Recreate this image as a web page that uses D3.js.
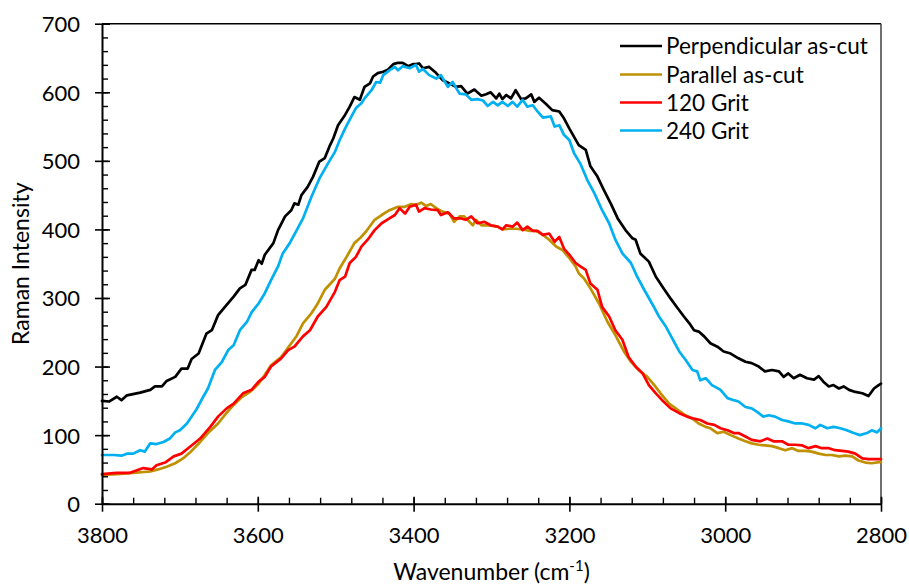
<!DOCTYPE html>
<html>
<head>
<meta charset="utf-8">
<script src="https://cdn.jsdelivr.net/npm/d3@7/dist/d3.min.js"></script>
<style>
  html, body { margin: 0; padding: 0; background: #fff; }
  svg { display: block; font-family: Lato, "Open Sans", sans-serif; }
</style>
</head>
<body>
<svg id="chart" width="909" height="584"></svg>
<script>
// ---- Data (wavenumber cm-1, Raman intensity) ----
const seriesNames = ["Perpendicular as-cut", "Parallel as-cut", "120 Grit", "240 Grit"];

const perpendicularAsCut = [
  [3800,150],[3791,149],[3781,156],[3775,151],[3768,158],[3751,162],[3738,166],[3732,171],[3723,171],[3717,179],
  [3706,185],[3698,197],[3690,197],[3685,211],[3676,219],[3666,248],[3659,253],[3651,275],[3640,290],[3631,302],
  [3623,314],[3616,319],[3608,341],[3604,341],[3599,355],[3595,350],[3591,363],[3580,380],[3574,399],[3565,419],
  [3557,428],[3553,438],[3548,436],[3544,450],[3536,462],[3529,477],[3521,499],[3514,504],[3508,521],[3503,533],
  [3497,552],[3488,567],[3482,579],[3476,593],[3469,589],[3463,608],[3456,613],[3452,623],[3446,628],[3439,630],
  [3433,633],[3426,641],[3420,643],[3414,643],[3407,638],[3401,641],[3397,641],[3393,642],[3388,635],[3380,637],
  [3371,628],[3363,618],[3354,613],[3346,608],[3339,609],[3331,598],[3322,604],[3313,595],[3307,597],[3301,600],
  [3294,591],[3290,598],[3286,590],[3281,596],[3275,591],[3269,603],[3262,590],[3256,591],[3249,597],[3245,586],
  [3239,592],[3230,583],[3222,574],[3213,572],[3207,562],[3200,547],[3194,535],[3188,523],[3179,516],[3173,492],
  [3164,477],[3156,458],[3147,438],[3138,416],[3128,399],[3119,387],[3115,385],[3109,365],[3098,353],[3089,331],
  [3079,314],[3070,299],[3061,285],[3053,273],[3046,263],[3040,253],[3034,251],[3027,244],[3019,234],[3010,229],
  [3002,222],[2993,219],[2983,212],[2974,207],[2966,205],[2957,200],[2949,193],[2940,195],[2931,193],[2925,185],
  [2919,190],[2912,183],[2904,188],[2895,183],[2886,181],[2880,186],[2874,178],[2867,171],[2861,173],[2854,168],
  [2848,171],[2841,166],[2833,163],[2824,161],[2816,157],[2809,168],[2803,173],[2800,175]
];

const parallelAsCut = [
  [3800,42],[3781,43],[3760,45],[3738,47],[3728,50],[3717,54],[3706,59],[3696,66],[3685,77],[3674,90],
  [3664,103],[3651,117],[3642,130],[3631,144],[3621,155],[3610,163],[3599,175],[3591,188],[3583,202],[3570,214],
  [3557,234],[3550,245],[3542,263],[3531,278],[3523,292],[3514,312],[3501,328],[3495,343],[3486,360],[3476,380],
  [3469,387],[3461,397],[3450,414],[3441,421],[3431,428],[3420,433],[3411,433],[3403,437],[3397,436],[3390,439],
  [3384,434],[3378,437],[3371,431],[3363,426],[3354,423],[3348,411],[3341,419],[3335,419],[3324,406],[3320,414],
  [3313,406],[3303,406],[3292,404],[3286,400],[3277,401],[3269,401],[3260,400],[3252,398],[3243,398],[3234,392],
  [3226,385],[3217,375],[3209,370],[3200,358],[3192,346],[3188,336],[3181,328],[3173,314],[3162,292],[3151,265],
  [3141,246],[3130,222],[3121,207],[3111,195],[3100,185],[3091,173],[3083,161],[3072,146],[3061,137],[3051,129],
  [3042,124],[3034,117],[3025,112],[3019,110],[3010,103],[3002,105],[2993,100],[2983,95],[2974,91],[2966,88],
  [2957,86],[2949,85],[2940,84],[2931,81],[2923,78],[2914,81],[2906,77],[2897,77],[2889,76],[2880,73],
  [2871,71],[2863,71],[2854,69],[2846,70],[2837,69],[2829,63],[2820,60],[2812,59],[2800,61]
];

const grit120 = [
  [3800,43],[3781,45],[3764,45],[3747,52],[3736,50],[3730,56],[3719,60],[3708,69],[3698,73],[3687,83],
  [3674,95],[3661,112],[3651,127],[3640,139],[3631,146],[3619,161],[3608,166],[3599,178],[3591,185],[3583,200],
  [3570,212],[3561,224],[3553,229],[3542,244],[3533,253],[3523,273],[3512,287],[3501,309],[3495,326],[3488,331],
  [3482,351],[3474,360],[3467,375],[3459,385],[3450,399],[3441,409],[3431,416],[3424,421],[3418,431],[3411,423],
  [3405,433],[3397,436],[3393,426],[3386,431],[3378,429],[3369,428],[3365,421],[3356,425],[3348,416],[3339,416],
  [3333,414],[3326,419],[3318,409],[3309,411],[3301,406],[3292,404],[3286,400],[3281,406],[3273,404],[3267,410],
  [3260,399],[3254,404],[3247,398],[3241,398],[3234,392],[3226,394],[3219,382],[3213,389],[3207,372],[3200,363],
  [3192,351],[3186,346],[3179,341],[3173,321],[3164,312],[3158,287],[3149,273],[3141,253],[3132,239],[3124,214],
  [3115,200],[3106,190],[3098,173],[3089,161],[3081,151],[3070,139],[3059,132],[3049,127],[3040,124],[3032,122],
  [3023,117],[3014,115],[3006,110],[2997,107],[2989,103],[2983,103],[2974,98],[2966,93],[2955,91],[2946,95],
  [2938,91],[2927,91],[2919,86],[2910,86],[2901,85],[2893,81],[2884,84],[2876,81],[2867,81],[2859,78],
  [2850,77],[2842,76],[2833,73],[2824,66],[2816,65],[2800,65]
];

const grit240 = [
  [3800,71],[3785,71],[3775,70],[3768,73],[3760,73],[3751,78],[3745,76],[3738,88],[3730,87],[3721,90],
  [3713,95],[3706,104],[3700,107],[3691,117],[3679,137],[3670,156],[3664,168],[3655,195],[3646,207],[3638,224],
  [3631,231],[3623,253],[3614,265],[3608,279],[3599,292],[3591,307],[3583,326],[3574,346],[3568,365],[3559,380],
  [3550,399],[3542,416],[3531,448],[3521,474],[3510,496],[3501,513],[3495,530],[3488,547],[3482,560],[3474,577],
  [3467,584],[3463,591],[3454,603],[3448,615],[3443,614],[3439,625],[3431,632],[3424,637],[3420,632],[3414,638],
  [3405,635],[3397,640],[3393,630],[3388,634],[3380,625],[3371,620],[3365,625],[3356,608],[3350,615],[3341,598],
  [3333,597],[3326,589],[3318,590],[3311,588],[3305,580],[3298,586],[3292,581],[3286,586],[3279,580],[3273,586],
  [3267,579],[3260,589],[3254,579],[3247,581],[3241,572],[3234,563],[3228,564],[3224,565],[3219,550],[3213,552],
  [3207,538],[3200,530],[3194,511],[3186,496],[3177,472],[3168,453],[3158,428],[3149,409],[3141,385],[3132,365],
  [3121,351],[3113,331],[3104,312],[3094,292],[3085,273],[3076,258],[3068,241],[3059,222],[3051,210],[3042,195],
  [3036,193],[3032,180],[3025,183],[3017,173],[3006,166],[2997,154],[2989,151],[2983,149],[2974,141],[2966,139],
  [2959,134],[2951,127],[2944,129],[2936,127],[2927,122],[2919,120],[2910,117],[2901,117],[2893,115],[2884,110],
  [2878,115],[2869,110],[2861,112],[2852,110],[2844,107],[2835,103],[2827,100],[2818,103],[2812,107],[2805,104],
  [2800,110]
];

const xTickValues = [3800, 3600, 3400, 3200, 3000, 2800];
const yTickValues = [0, 100, 200, 300, 400, 500, 600, 700];
const xMinorTicks = d3.range(3800, 2799, -40);
const yMinorTicks = d3.range(0, 701, 20);

// ---- Styles ----
const colors = ["#000000", "#BF9000", "#FF0000", "#00B0F0"];
const allSeries = [perpendicularAsCut, parallelAsCut, grit120, grit240];

const svg = d3.select("#chart");
const pLeft = 102, pRight = 881, pTop = 23.7, pBottom = 503.7;

const x = d3.scaleLinear().domain([3800, 2800]).range([pLeft, pRight]);
const y = d3.scaleLinear().domain([0, 700]).range([pBottom, pTop]);

// plot border (top & right)
svg.append("line").attr("x1", pLeft).attr("x2", pRight).attr("y1", pTop).attr("y2", pTop)
  .attr("stroke", "#000").attr("stroke-width", 1.5);
svg.append("line").attr("x1", pRight).attr("x2", pRight).attr("y1", pTop).attr("y2", pBottom)
  .attr("stroke", "#404040").attr("stroke-width", 1.5);

// series
const line = d3.line().x(d => x(d[0])).y(d => y(d[1]));
allSeries.forEach((s, i) => {
  svg.append("path").datum(s)
    .attr("d", line)
    .attr("fill", "none")
    .attr("stroke", colors[i])
    .attr("stroke-width", 2.7)
    .attr("stroke-linejoin", "round")
    .attr("stroke-linecap", "round");
});

// Y axis
const yMinor = svg.append("g").attr("transform", `translate(${pLeft},0)`)
  .call(d3.axisRight(y).tickValues(yMinorTicks).tickSize(6).tickFormat(""));
yMinor.select(".domain").remove();
yMinor.selectAll("line").attr("stroke", "#000").attr("stroke-width", 1.4);

const yAxis = svg.append("g").attr("transform", `translate(${pLeft},0)`)
  .call(d3.axisLeft(y).tickValues(yTickValues).tickSize(7).tickSizeOuter(0).tickPadding(15));
yAxis.select(".domain").attr("stroke", "#000").attr("stroke-width", 2);
yAxis.selectAll(".tick line").attr("x1", -7).attr("x2", 8).attr("stroke", "#000").attr("stroke-width", 1.6);
yAxis.selectAll("text").attr("font-family", "Lato, 'Open Sans', sans-serif")
  .attr("font-size", 22).attr("fill", "#000").attr("dy", "0.36em");

// X axis
const xMinor = svg.append("g").attr("transform", `translate(0,${pBottom})`)
  .call(d3.axisTop(x).tickValues(xMinorTicks).tickSize(6).tickFormat(""));
xMinor.select(".domain").remove();
xMinor.selectAll("line").attr("stroke", "#000").attr("stroke-width", 1.4);

const xAxis = svg.append("g").attr("transform", `translate(0,${pBottom})`)
  .call(d3.axisBottom(x).tickValues(xTickValues).tickSize(8).tickSizeOuter(0).tickFormat(d3.format("d")));
xAxis.select(".domain").attr("stroke", "#000").attr("stroke-width", 2);
xAxis.selectAll(".tick line").attr("y1", -7).attr("y2", 8).attr("stroke", "#000").attr("stroke-width", 1.6);
xAxis.selectAll("text").attr("font-family", "Lato, 'Open Sans', sans-serif")
  .attr("font-size", 22).attr("fill", "#000").attr("y", 39.3).attr("dy", 0);

// Axis titles
svg.append("text")
  .attr("transform", `translate(29,${(pTop + pBottom) / 2}) rotate(-90)`)
  .attr("text-anchor", "middle")
  .attr("font-size", 23)
  .attr("fill", "#000")
  .text("Raman Intensity");

const xt = svg.append("text")
  .attr("x", (pLeft + pRight) / 2).attr("y", 580)
  .attr("text-anchor", "middle")
  .attr("font-size", 23)
  .attr("fill", "#000");
xt.append("tspan").text("Wavenumber (cm");
xt.append("tspan").attr("font-size", 15).attr("dy", -9).text("-1");
xt.append("tspan").attr("dy", 9).text(")");

// Legend
const legendRowY = [46, 74.5, 102.5, 130.5];
seriesNames.forEach((name, i) => {
  const g = svg.append("g").attr("transform", `translate(620,${legendRowY[i]})`);
  g.append("line").attr("x1", 0).attr("x2", 42).attr("y1", 0).attr("y2", 0)
    .attr("stroke", colors[i]).attr("stroke-width", 2.7);
  g.append("text").attr("x", 46).attr("y", 0).attr("dy", "0.36em")
    .attr("font-size", 22.5).attr("fill", "#000").text(name);
});
</script>
</body>
</html>
